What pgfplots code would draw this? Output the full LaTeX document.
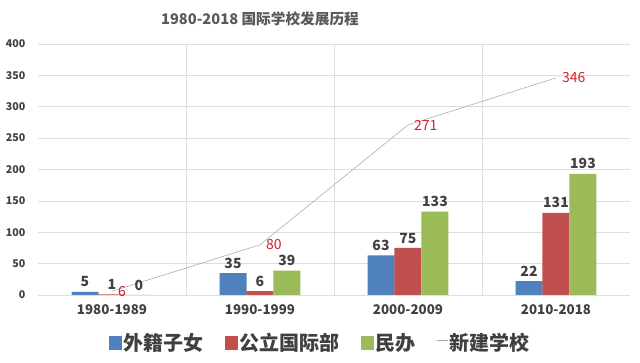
\documentclass[border=0pt]{standalone}
\usepackage{pgfplots}
\pgfplotsset{compat=1.18}
\usepackage{fontspec}
\setmainfont{Noto Sans CJK SC}
\definecolor{cblue}{HTML}{4F81BD}
\definecolor{cred}{HTML}{C0504D}
\definecolor{cgreen}{HTML}{9BBB59}
\definecolor{cline}{HTML}{A6A6A6}
\definecolor{clab}{HTML}{D0202E}
\definecolor{ctext}{HTML}{404040}
\definecolor{ctitle}{HTML}{595959}
\definecolor{cgrid}{HTML}{DEDEDE}
\begin{document}
\begin{tikzpicture}[x=1pt,y=1pt]
\useasboundingbox (0,0) rectangle (480,272.25);
\begin{axis}[
  at={(28.5pt,51pt)}, anchor=south west,
  scale only axis, width=444pt, height=188.25pt,
  xmin=-0.5, xmax=3.5, ymin=0, ymax=400,
  ytick={0,50,...,400},
  xtick={0,1,2,3},
  xticklabels={1980-1989,1990-1999,2000-2009,2010-2018},
  minor xtick={0.5,1.5,2.5},
  xminorgrids, ymajorgrids,
  grid style={cgrid}, minor grid style={cgrid},
  axis line style={draw=none},
  major tick length=0pt, minor tick length=0pt,
  /pgf/number format/assume math mode=true,
  yticklabel style={font=\bfseries\fontsize{8}{10}\selectfont, text=ctext, xshift=-6pt},
  xticklabel style={font=\bfseries\fontsize{10}{12}\selectfont, text=ctext, yshift=-4pt},
  legend style={at={(0.476,0)}, anchor=center, yshift=-36pt, draw=none, fill=none,
    legend columns=4, font=\bfseries\fontsize{15}{18}\selectfont, text=ctext,
    /tikz/every even column/.append style={column sep=15pt},
    inner sep=0pt, nodes={inner sep=1pt}},
]
\addplot[ybar, bar width=20.25pt, bar shift=0pt, fill=cblue, draw=none,
  nodes near coords, point meta=explicit,
  every node near coord/.append style={font=\bfseries\fontsize{10.5}{12}\selectfont, text=ctext},
  legend image code/.code={\fill[cblue] (0pt,-5pt) rectangle (10pt,5pt);}]
  coordinates {(-0.1824,5) [5] (0.8176,35) [35] (1.8176,63) [63] (2.8176,22) [22]};
\addlegendentry{外籍子女}
\addplot[ybar, bar width=20.25pt, bar shift=0pt, fill=cred, draw=none,
  nodes near coords, point meta=explicit,
  every node near coord/.append style={font=\bfseries\fontsize{10.5}{12}\selectfont, text=ctext},
  legend image code/.code={\fill[cred] (0pt,-5pt) rectangle (10pt,5pt);}]
  coordinates {(0,1) [1] (1,6) [6] (2,75) [75] (3,131) [131]};
\addlegendentry{公立国际部}
\addplot[ybar, bar width=20.25pt, bar shift=0pt, fill=cgreen, draw=none,
  nodes near coords, point meta=explicit,
  every node near coord/.append style={font=\bfseries\fontsize{10.5}{12}\selectfont, text=ctext},
  legend image code/.code={\fill[cgreen] (0pt,-5pt) rectangle (10pt,5pt);}]
  coordinates {(0.1824,0) [0] (1.1824,39) [39] (2.1824,133) [133] (3.1824,193) [193]};
\addlegendentry{民办}
\addplot[sharp plot, cline, thin, mark=none,
  nodes near coords, every node near coord/.append style={anchor=west, xshift=1pt, font=\fontsize{10.5}{12}\selectfont, text=clab},
  legend image code/.code={\draw[cline, thin] (0pt,2pt) -- (8pt,2pt);}]
  coordinates {(0,6) (1,80) (2,271) (3,346)};
\addlegendentry{新建学校}
\end{axis}
\node[font=\bfseries\fontsize{11}{13}\selectfont, text=ctitle] at (195,258) {1980-2018 国际学校发展历程};
\end{tikzpicture}
\end{document}
